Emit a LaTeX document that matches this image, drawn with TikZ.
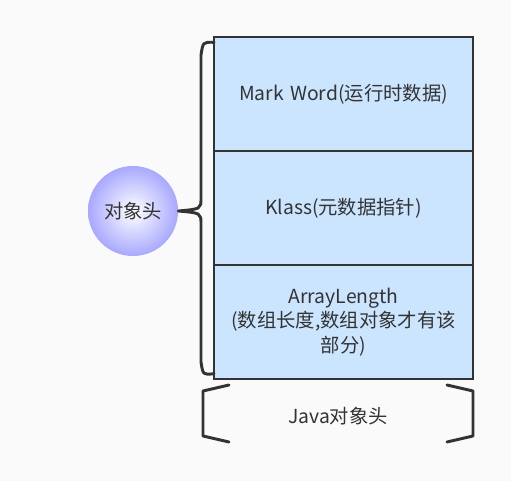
\documentclass[tikz,border=0pt]{standalone}
\usepackage{fontspec}
\setmainfont{Noto Sans CJK SC}
\usetikzlibrary{positioning}
\definecolor{boxblue}{HTML}{CCE5FF}
\definecolor{ink}{HTML}{333333}
\definecolor{ballblue}{HTML}{A8A8FF}
\definecolor{paper}{HTML}{FAFAFA}
\tikzset{
  field/.style={draw=ink, line width=2.2pt, fill=boxblue, minimum width=259*0.75pt, minimum height=114*0.75pt,
    text width=178pt, align=center, text=ink, font=\fontsize{14.5}{18.5}\selectfont, inner sep=0pt, outer sep=0pt},
  header/.style={circle, minimum size=90*0.75pt, inner sep=0pt, inner color=white, outer color=ballblue,
    text=ink, font=\fontsize{14.5}{18.5}\selectfont},
  edge/.style={draw=ink, line width=2.2pt, line cap=round, line join=round}
}
\begin{document}
\begin{tikzpicture}[x=0.75pt, y=-0.75pt]
\fill[paper] (0,0) rectangle (511,481);
\useasboundingbox (0,0) rectangle (511,481);
% the three fields
\node[field] (mark) at (343.5,94) {Mark Word(运行时数据)};
\node[field, below=0pt of mark] (klass) {Klass(元数据指针)};
\node[field, below=0pt of klass] (len) {ArrayLength\\(数组长度,数组对象才有该\\部分)};
% object header
\node[header] (head) at (133,211) {对象头};
% brace
\draw[edge] ([yshift=-4pt]mark.north west) .. controls (203,42) .. (201,55) -- (201,198)
  .. controls (201,209) .. (head.east) .. controls (201,213) .. (201,224) -- (201,362)
  .. controls (203,375) .. ([yshift=4pt]len.south west);
% bottom label
\node[text=ink, font=\fontsize{14.5}{18.5}\selectfont] (java) at (338,416) {Java对象头};
\coordinate (bl) at (203,413);
\coordinate (br) at (473,413);
\draw[edge] (229,385) -- (bl |- 0,391) -- (bl |- 0,436) -- (229,442);
\draw[edge] (447,385) -- (br |- 0,391) -- (br |- 0,436) -- (447,442);
\end{tikzpicture}
\end{document}
